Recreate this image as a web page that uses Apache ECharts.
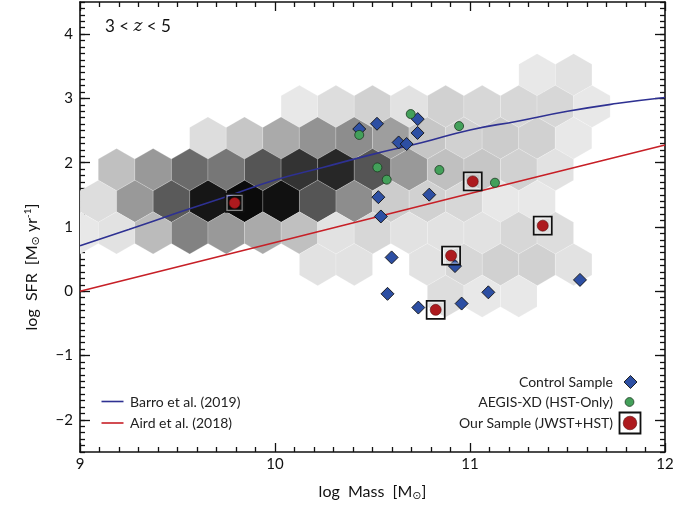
<!DOCTYPE html>
<html>
<head>
<meta charset="utf-8">
<script src="https://cdn.jsdelivr.net/npm/echarts@6/dist/echarts.min.js"></script>
<style>
html, body { margin: 0; padding: 0; background: #fff; }
#chart { width: 699px; height: 508px; }
</style>
</head>
<body>
<div id="chart"></div>
<script>
// hexbin of the parent sample: bin size in log Mass / log SFR
var binW = 0.1875;
var binH = 0.492;
// one entry per hex row: row centre (log SFR), first bin centre (log Mass), counts
var hexRows = [
    {sfr: 3.368, mass0: 11.344, counts: [1, 2]},
    {sfr: 2.876, mass0: 10.125, counts: [1, 3, 5, 2, 5, 4, 4, 4, 1]},
    {sfr: 2.384, mass0: 9.656, counts: [3, 7, 12, 16, 17, 14, 7, 5, 6, 5, 1]},
    {sfr: 1.892, mass0: 9.1875, counts: [8, 15, 23, 21, 27, 33, 35, 27, 15, 8, 7, 5, 2]},
    {sfr: 1.400, mass0: 9.094, counts: [3, 15, 26, 38, 40, 39, 27, 17, 6, 5, 4, 1, 1]},
    {sfr: 0.908, mass0: 9.0, counts: [1, 2, 9, 19, 15, 12, 8, 2, 4, 2, 2, 2, 4, 3]},
    {sfr: 0.416, mass0: 10.219, counts: [2, 2, 0, 2, 4, 5, 5, 2]},
    {sfr: -0.076, mass0: 10.875, counts: [3, 1, 1]}
];

// Barro et al. (2019)
var barroMass = [9, 9.25, 9.5, 9.75, 10, 10.25, 10.5, 10.75, 11, 11.25, 11.5, 11.75, 12];
var barroSFR = [0.71, 0.96, 1.22, 1.47, 1.73, 1.93, 2.13, 2.31, 2.51, 2.65, 2.80, 2.92, 3.015];
// Aird et al. (2018)
var airdMass = [9, 10, 11, 12];
var airdSFR = [0, 0.76, 1.52, 2.275];

// Control Sample
var controlMass = [10.432, 10.523, 10.732, 10.731, 10.634, 10.675, 10.530, 10.791, 10.543, 10.598, 10.923, 11.564, 10.577, 10.735, 10.957, 11.094];
var controlSFR = [2.524, 2.606, 2.679, 2.463, 2.315, 2.291, 1.464, 1.503, 1.164, 0.527, 0.392, 0.177, -0.040, -0.253, -0.191, -0.016];
// AEGIS-XD (HST-Only)
var aegisMass = [10.432, 10.696, 10.944, 10.525, 10.573, 10.843, 11.128];
var aegisSFR = [2.432, 2.757, 2.570, 1.927, 1.736, 1.887, 1.689];
// Our Sample (JWST+HST)
var ourMass = [9.793, 11.014, 11.373, 10.903, 10.824];
var ourSFR = [1.374, 1.709, 1.021, 0.555, -0.289];

var yTicks = [-2, -1, 0, 1, 2, 3, 4];

var font = 'Lato, "Open Sans", "DejaVu Sans", sans-serif';
var ink = '#111';
var blue = '#2e3192', red = '#c71f26';
var diamondBlue = '#2d4fa3', green = '#43a05a', dotRed = '#ad1a1e';

function zip(a, b) {
    return a.map(function (v, i) { return [v, b[i]]; });
}

var hexData = [];
hexRows.forEach(function (row) {
    row.counts.forEach(function (c, i) {
        if (c > 0) hexData.push([row.mass0 + i * binW, row.sfr, c]);
    });
});

function renderHex(params, api) {
    var x = api.value(0), y = api.value(1);
    var pts = [
        [x, y + binH * 2 / 3], [x + binW / 2, y + binH / 3], [x + binW / 2, y - binH / 3],
        [x, y - binH * 2 / 3], [x - binW / 2, y - binH / 3], [x - binW / 2, y + binH / 3]
    ].map(function (p) { return api.coord(p); });
    var cs = params.coordSys;
    return {
        type: 'polygon',
        shape: {points: echarts.graphic.clipPointsByRect(pts, {x: cs.x, y: cs.y, width: cs.width, height: cs.height})},
        style: {fill: api.visual('color'), stroke: 'rgba(255,255,255,0.3)', lineWidth: 0.6}
    };
}

function xAxisOf(pos) {
    return {
        type: 'value', min: 9, max: 12, interval: 1, position: pos,
        axisLine: {show: true, onZero: false, lineStyle: {color: ink, width: 1.6}},
        axisTick: {show: true, inside: true, length: 9, lineStyle: {color: ink, width: 1.3}},
        minorTick: {show: true, splitNumber: 10, length: 5, lineStyle: {color: ink, width: 1.3}},
        axisLabel: {show: pos === 'bottom', fontSize: 15, color: ink, margin: 5, fontFamily: font},
        splitLine: {show: false}
    };
}

function yMajorOf(pos) {
    return {
        type: 'value', min: -2.5, max: 4.5, position: pos,
        axisLine: {show: true, onZero: false, lineStyle: {color: ink, width: 1.6}},
        axisTick: {show: true, inside: true, length: 10, customValues: yTicks, lineStyle: {color: ink, width: 1.3}},
        axisLabel: {
            show: pos === 'left', customValues: yTicks, fontSize: 15, color: ink, margin: 7, fontFamily: font,
            formatter: function (v) { return String(v).replace('-', '\u2212'); }
        },
        splitLine: {show: false}
    };
}

// minor ticks every 0.1 on the y sides
function yMinorOf(pos) {
    return {
        type: 'value', min: -2.5, max: 4.5, interval: 0.1, position: pos,
        axisLine: {show: false, onZero: false},
        axisTick: {show: true, inside: true, length: 5, lineStyle: {color: ink, width: 1.3}},
        axisLabel: {show: false},
        splitLine: {show: false}
    };
}

function label(x, y, text, align) {
    return {type: 'text', x: x, y: y, style: {text: text, fontSize: 14, fill: '#222', fontFamily: font, align: align, verticalAlign: 'middle'}};
}

var chart = echarts.init(document.getElementById('chart'));
chart.setOption({
    animation: false,
    grid: {left: 80, right: 34, top: 2, bottom: 56},
    xAxis: [xAxisOf('bottom'), xAxisOf('top')],
    yAxis: [yMajorOf('left'), yMinorOf('left'), yMajorOf('right'), yMinorOf('right')],
    visualMap: {
        show: false, type: 'continuous', seriesIndex: 0, dimension: 2, min: 1, max: 40,
        inRange: {color: ['#e8e8e8', '#0b0b0b']}
    },
    series: [
        {
            type: 'custom', name: 'hexbin', renderItem: renderHex, data: hexData,
            clip: true, silent: true, z: 1, encode: {x: 0, y: 1}
        },
        {
            type: 'line', name: 'Barro et al. (2019)', data: zip(barroMass, barroSFR), smooth: true,
            showSymbol: false, symbol: 'none', lineStyle: {color: blue, width: 1.6}, z: 3
        },
        {
            type: 'line', name: 'Aird et al. (2018)', data: zip(airdMass, airdSFR),
            showSymbol: false, symbol: 'none', lineStyle: {color: red, width: 1.6}, z: 3
        },
        {
            type: 'scatter', name: 'Control Sample', data: zip(controlMass, controlSFR),
            symbol: 'diamond', symbolSize: 13, z: 4,
            itemStyle: {color: diamondBlue, borderColor: ink, borderWidth: 0.9, opacity: 1}
        },
        {
            type: 'scatter', name: 'AEGIS-XD (HST-Only)', data: zip(aegisMass, aegisSFR),
            symbol: 'circle', symbolSize: 9, z: 5,
            itemStyle: {color: green, borderColor: '#1d3a22', borderWidth: 0.8, opacity: 1}
        },
        {
            type: 'scatter', name: 'Our Sample frame', data: zip(ourMass, ourSFR),
            symbol: 'rect', symbolSize: 18, z: 6, silent: true,
            itemStyle: {color: 'rgba(0,0,0,0)', borderColor: ink, borderWidth: 1.8, opacity: 1}
        },
        {
            type: 'scatter', name: 'Our Sample frame inner', data: zip(ourMass, ourSFR),
            symbol: 'rect', symbolSize: 15, z: 6, silent: true,
            itemStyle: {color: 'rgba(0,0,0,0)', borderColor: 'rgba(255,255,255,0.5)', borderWidth: 1.2, opacity: 1}
        },
        {
            type: 'scatter', name: 'Our Sample (JWST+HST)', data: zip(ourMass, ourSFR),
            symbol: 'circle', symbolSize: 11, z: 7,
            itemStyle: {color: dotRed, borderColor: '#5a0a0a', borderWidth: 0.6, opacity: 1}
        }
    ],
    graphic: [
        {
            type: 'text', x: 105, y: 27,
            style: {
                text: '3 < {i|z} < 5', fontSize: 17, fill: ink, fontFamily: font, verticalAlign: 'middle',
                rich: {i: {fontSize: 17, fontStyle: 'italic', fontFamily: '"DejaVu Serif", serif', fill: ink}}
            }
        },
        // axis titles
        {
            type: 'text', x: 372.5, y: 492,
            style: {
                text: 'log  Mass  [M{sub|\u2299}]', fontSize: 16, fill: ink, fontFamily: font,
                align: 'center', verticalAlign: 'middle',
                rich: {sub: {fontSize: 11, fill: ink, fontFamily: font, padding: [6, 0, 0, 0]}}
            }
        },
        {
            type: 'text', x: 32, y: 267, rotation: Math.PI / 2,
            style: {
                text: 'log  SFR  [M{sub|\u2299} yr{sup|-1}]', fontSize: 16, fill: ink, fontFamily: font,
                align: 'center', verticalAlign: 'middle',
                rich: {
                    sub: {fontSize: 11, fill: ink, fontFamily: font, padding: [6, 0, 0, 0]},
                    sup: {fontSize: 10, fill: ink, fontFamily: font, padding: [0, 0, 8, 0]}
                }
            }
        },
        // relation legend, lower left
        {type: 'line', shape: {x1: 101.5, y1: 401.5, x2: 123.5, y2: 401.5}, style: {stroke: blue, lineWidth: 1.6}},
        {type: 'line', shape: {x1: 101.5, y1: 423, x2: 123.5, y2: 423}, style: {stroke: red, lineWidth: 1.6}},
        label(130, 402, 'Barro et al. (2019)', 'left'),
        label(130, 423, 'Aird et al. (2018)', 'left'),
        // sample legend, lower right
        label(613, 382, 'Control Sample', 'right'),
        label(613, 402, 'AEGIS-XD (HST-Only)', 'right'),
        label(613, 423, 'Our Sample (JWST+HST)', 'right'),
        {type: 'polygon', shape: {points: [[630.5, 375.5], [637, 382], [630.5, 388.5], [624, 382]]}, style: {fill: diamondBlue, stroke: ink, lineWidth: 0.9}},
        {type: 'circle', shape: {cx: 629.5, cy: 402, r: 4.4}, style: {fill: green, stroke: '#1d3a22', lineWidth: 0.8}},
        {type: 'rect', shape: {x: 619.5, y: 412.5, width: 21, height: 21}, style: {fill: 'none', stroke: ink, lineWidth: 1.8}},
        {type: 'circle', shape: {cx: 630, cy: 423, r: 6.8}, style: {fill: dotRed, stroke: '#5a0a0a', lineWidth: 0.6}}
    ]
});
</script>
</body>
</html>
